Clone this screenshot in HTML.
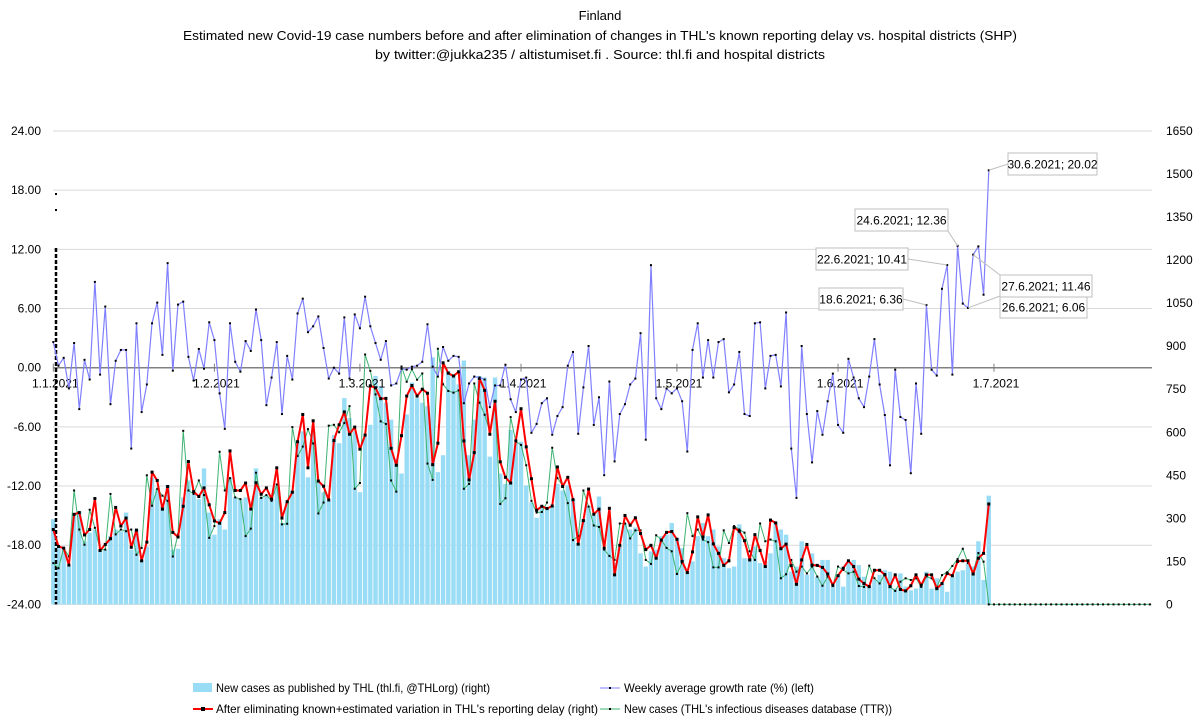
<!DOCTYPE html>
<html><head><meta charset="utf-8">
<style>
html,body{margin:0;padding:0;background:#fff;}
svg{display:block;font-family:"Liberation Sans",Arial,sans-serif;}
</style></head>
<body>
<svg id="chart" width="1200" height="725" viewBox="0 0 1200 725" xmlns="http://www.w3.org/2000/svg">
<text x="600" y="20" text-anchor="middle" font-size="13" fill="#000">Finland</text>
<text x="600" y="40" text-anchor="middle" font-size="13" fill="#000" textLength="834" lengthAdjust="spacingAndGlyphs">Estimated new Covid-19 case numbers before and after elimination of changes in THL's known reporting delay vs. hospital districts (SHP)</text>
<text x="600" y="59" text-anchor="middle" font-size="13" fill="#000" textLength="450" lengthAdjust="spacingAndGlyphs">by twitter:@jukka235 / altistumiset.fi . Source: thl.fi and hospital districts</text>
<g id="grid"></g>
<g id="bars"></g>
<g id="axes"></g>
<g id="lines"></g>
<g id="labels"></g>
<g id="legend">
  <rect x="193" y="683" width="19" height="9" fill="#99dcf5"/>
  <text x="216" y="692" font-size="12" textLength="274" lengthAdjust="spacingAndGlyphs">New cases as published by THL (thl.fi, @THLorg) (right)</text>
  <line x1="600" y1="688" x2="620" y2="688" stroke="#8080ff" stroke-width="1"/>
  <rect x="609" y="687" width="2" height="2" fill="#000"/>
  <text x="624" y="692" font-size="12" textLength="190" lengthAdjust="spacingAndGlyphs">Weekly average growth rate (%) (left)</text>
  <line x1="193" y1="709" x2="213" y2="709" stroke="#ff0000" stroke-width="2"/>
  <rect x="201" y="707" width="4" height="4" fill="#000"/>
  <text x="216" y="713" font-size="12" textLength="382" lengthAdjust="spacingAndGlyphs">After eliminating known+estimated variation in THL's reporting delay (right)</text>
  <line x1="600" y1="709" x2="620" y2="709" stroke="#3cb371" stroke-width="1"/>
  <rect x="609" y="708" width="2" height="2" fill="#000"/>
  <text x="624" y="713" font-size="12" textLength="268" lengthAdjust="spacingAndGlyphs">New cases (THL's infectious diseases database (TTR))</text>
</g>
</svg>
<script>
const leftTicks = [24, 18, 12, 6, 0, -6, -12, -18, -24];
const rightTicks = [0, 150, 300, 450, 600, 750, 900, 1050, 1200, 1350, 1500, 1650];
const monthLabels = ["1.1.2021","1.2.2021","1.3.2021","1.4.2021","1.5.2021","1.6.2021","1.7.2021"];
const monthDays = [0, 31, 59, 90, 120, 151, 181];
const growth = [2.6,0.2,1.0,-2.1,2.5,-4.2,0.8,-1.2,8.7,-0.7,6.2,-3.7,0.7,1.8,1.8,-8.2,4.5,-4.5,-1.7,4.5,6.6,1.3,10.6,-0.3,6.4,6.7,1.1,-1.3,1.9,-0.1,4.6,2.8,-2.6,-6.2,4.5,0.6,-0.4,2.7,1.7,5.9,2.8,-3.8,-1.0,2.6,-4.7,1.2,-1.2,5.5,7.0,3.6,4.2,5.2,2.0,-1.1,0,-0.6,5.1,-1.1,5.4,4.0,7.2,
4.2,2.5,0.8,2.7,-1.8,-1.6,-0.1,-0.2,0.1,0.2,0.6,4.4,0.1,-0.9,2.1,0.7,1.2,1.1,-3.6,-1.6,-0.9,-1.0,-1.2,-4.0,-1.8,-1.8,0.3,-3.2,-4.5,-1.2,-1.0,-6.6,-5.7,-3.6,-3.1,-6.8,-4.9,-4.0,0.2,1.6,-6.7,-2.0,2.2,-5.8,-3.0,-10.9,-1.4,-9.5,-4.7,-3.7,-1.7,-1.1,3.5,-7.3,10.4,-3.1,-4.2,
-2.1,-2.6,-2.1,-3.4,-8.5,1.8,4.5,-1.0,2.8,-1.0,2.6,2.9,-2.5,-1.7,1.6,-4.7,-4.9,4.5,4.6,-2.1,1.2,1.3,-1.9,5.6,-8.2,-13.2,2.2,-4.7,-9.6,-4.4,-6.8,-3.4,-0.6,-5.8,-6.6,0.9,-1.0,-3.1,-4.0,-0.9,2.9,-1.7,-4.8,-9.9,-0.2,-5.0,-5.3,-10.7,-1.6,-6.7,6.36,-0.2,-0.8,8.0,10.41,-0.7,12.36,6.5,6.06,11.46,12.3,7.4,20.02];
const thlCases = [297,202,191,132,314,325,220,250,261,191,191,238,261,255,320,191,261,155,202,443,402,343,415,191,194,373,432,384,367,474,320,243,297,261,443,373,367,373,325,474,373,379,367,415,284,356,397,567,603,443,603,426,391,361,590,562,719,649,603,391,585,
626,796,761,703,644,508,456,662,773,719,703,691,861,461,520,814,802,767,850,520,644,796,791,515,791,456,420,608,562,567,415,356,302,338,332,343,420,397,415,367,214,297,343,309,376,191,297,144,202,284,261,268,178,132,185,191,238,
243,284,232,196,114,150,238,284,238,261,202,161,126,132,279,161,161,202,144,150,178,284,261,243,114,132,220,103,178,96,155,155,62,103,62,144,155,137,96,62,85,103,119,114,55,108,62,49,55,62,114,55,91,73,44,96,114,119,144,132,220,85,379];
const adjusted = [261,202,196,137,314,320,242,261,369,188,209,229,338,273,301,199,259,152,217,461,432,332,411,251,235,342,498,393,376,406,347,291,283,320,535,397,397,423,332,424,384,406,367,476,301,358,391,567,662,476,640,430,412,364,571,626,671,593,618,541,590,
762,755,717,718,544,485,588,726,763,726,750,736,487,562,842,806,796,811,570,434,529,788,746,593,708,497,443,423,570,682,549,438,328,342,334,343,479,411,443,365,210,292,402,314,332,196,335,103,206,310,276,302,247,191,206,161,224,
251,254,227,150,111,183,305,235,312,211,178,136,152,268,255,222,155,243,188,132,294,284,194,210,135,70,155,209,137,136,129,106,67,100,126,152,132,88,73,62,119,119,103,62,103,52,47,65,103,67,103,103,55,73,108,100,150,152,152,106,161,178,350];
const ttrCases = [144,126,197,167,397,261,208,330,267,191,191,385,244,261,255,261,173,197,450,344,403,379,361,167,244,605,397,385,432,381,232,273,532,397,440,373,367,238,264,459,371,381,361,418,279,281,618,517,550,611,561,317,355,623,626,600,632,691,403,423,871,
814,732,638,629,432,393,829,776,820,783,805,491,434,891,767,744,738,746,403,420,770,703,661,603,691,350,370,653,567,556,485,361,320,322,355,546,440,414,353,224,238,397,341,275,270,191,169,155,282,282,230,258,258,155,141,241,226,
197,185,106,144,318,238,261,226,217,129,129,258,214,273,261,250,185,155,282,220,226,220,91,105,155,114,132,108,132,97,65,97,64,132,120,108,114,64,61,135,91,73,106,61,47,79,91,85,91,61,97,91,61,102,112,134,158,194,144,114,179,149,0,
0,0,0,0,0,0,0,0,0,0,0,0,0,0,0,0,0,0,0,0,0,0,0,0,0,0,0,0,0,0,0];
const annotDays = [168, 172, 174, 176, 177, 180];
const annotText = ["18.6.2021; 6.36","22.6.2021; 10.41","24.6.2021; 12.36","26.6.2021; 6.06","27.6.2021; 11.46","30.6.2021; 20.02"];

const NS = "http://www.w3.org/2000/svg";
const X0 = 53.3, DX = 5.197, TOP = 131, BOT = 604.4, XL = 53, XR = 1152;
function xd(d){ return X0 + DX * d; }
function yl(v){ return TOP + (24 - v) / 48 * (BOT - TOP); }
function yr(v){ return BOT - v / 1650 * (BOT - TOP); }
function mk(tag, attrs, parent){ const e = document.createElementNS(NS, tag); for (const k in attrs) e.setAttribute(k, attrs[k]); parent.appendChild(e); return e; }

const grid = document.getElementById('grid');
leftTicks.forEach(t => {
  const y = yl(t);
  if (t !== 0) {
    const gl = mk('line', {x1: XL, x2: XR, y1: y, y2: y, stroke: '#d9d9d9', 'stroke-width': 1}, grid);
    
    
  }
  const tx = mk('text', {x: 41, y: y + 4, 'text-anchor': 'end', 'font-size': 12, fill: '#000'}, grid);
  tx.textContent = t.toFixed(2);
  
  
});
rightTicks.forEach(t => {
  const tx = mk('text', {x: 1166, y: yr(t) + 4, 'font-size': 12, fill: '#000'}, grid);
  tx.textContent = t;
  
  
});

const bars = document.getElementById('bars');
thlCases.forEach((v, d) => {
  const r = mk('rect', {x: xd(d) - 2.2, y: yr(v), width: 4.4, height: BOT - yr(v), fill: '#99dcf5'}, bars);
  
  
});

const axes = document.getElementById('axes');
const zl = mk('line', {x1: XL, x2: XR, y1: yl(0), y2: yl(0), stroke: '#808080', 'stroke-width': 1.5}, axes);


const vl = mk('line', {x1: 56, x2: 56, y1: 248, y2: BOT, stroke: '#000', 'stroke-width': 2.5, 'stroke-dasharray': '4 2'}, axes);


[193, 209].forEach(y => { const dt = mk('rect', {x: 55, y: y, width: 2, height: 2, fill: '#000'}, axes);   });
monthDays.forEach((d, i) => {
  const x = xd(d);
  const tk = mk('line', {x1: x, x2: x, y1: yl(0) - 4, y2: yl(0) + 4, stroke: '#808080', 'stroke-width': 1}, axes);
  
  
  const tx = mk('text', {x: x + 2, y: yl(0) + 20, 'text-anchor': 'middle', 'font-size': 12, fill: '#000'}, axes);
  tx.textContent = monthLabels[i];
  
  
});

const lines = document.getElementById('lines');
function series(vals, yf, color, w, ms, name){
  const pts = vals.map((v, d) => xd(d).toFixed(1) + ',' + yf(v).toFixed(1)).join(' ');
  const pl = mk('polyline', {points: pts, fill: 'none', stroke: color, 'stroke-width': w, 'stroke-linejoin': 'round'}, lines);
  
  
  vals.forEach((v, d) => {
    const m = mk('rect', {x: xd(d) - ms / 2, y: yf(v) - ms / 2, width: ms, height: ms, fill: '#000'}, lines);
    
    
  });
}
series(ttrCases, yr, '#3cb371', 1, 2, 'ttr-cases-line');
series(adjusted, yr, '#ff0000', 2, 3, 'adjusted-cases-line');
series(growth, yl, '#8080ff', 1.2, 2, 'growth-rate-line');

const labels = document.getElementById('labels');
const boxPos = [[819,288,84],[816,248,92],[855,209,93],[1000,296,87],[1000,275,92],[1008,153,89]];
annotDays.forEach((d, i) => {
  const px = xd(d), py = yl(growth[d]);
  const b = boxPos[i];
  const lx = b[0] < px ? b[0] + b[2] : b[0];
  const ly = b[0] < px ? (i === 2 ? b[1] + 22 : b[1] + 11) : (i === 5 ? b[1] + 11 : b[1]);
  const ln = mk('line', {x1: lx, y1: ly, x2: px, y2: py, stroke: '#bfbfbf', 'stroke-width': 1}, labels);
  
  
  const r = mk('rect', {x: b[0], y: b[1], width: b[2], height: 22, fill: '#fff', stroke: '#bfbfbf', 'stroke-width': 1}, labels);
  
  
  const t = mk('text', {x: b[0] + b[2] / 2, y: b[1] + 15.5, 'text-anchor': 'middle', 'font-size': 12, fill: '#000'}, labels);
  t.textContent = annotText[i];
  
  
});
</script>
</body></html>
